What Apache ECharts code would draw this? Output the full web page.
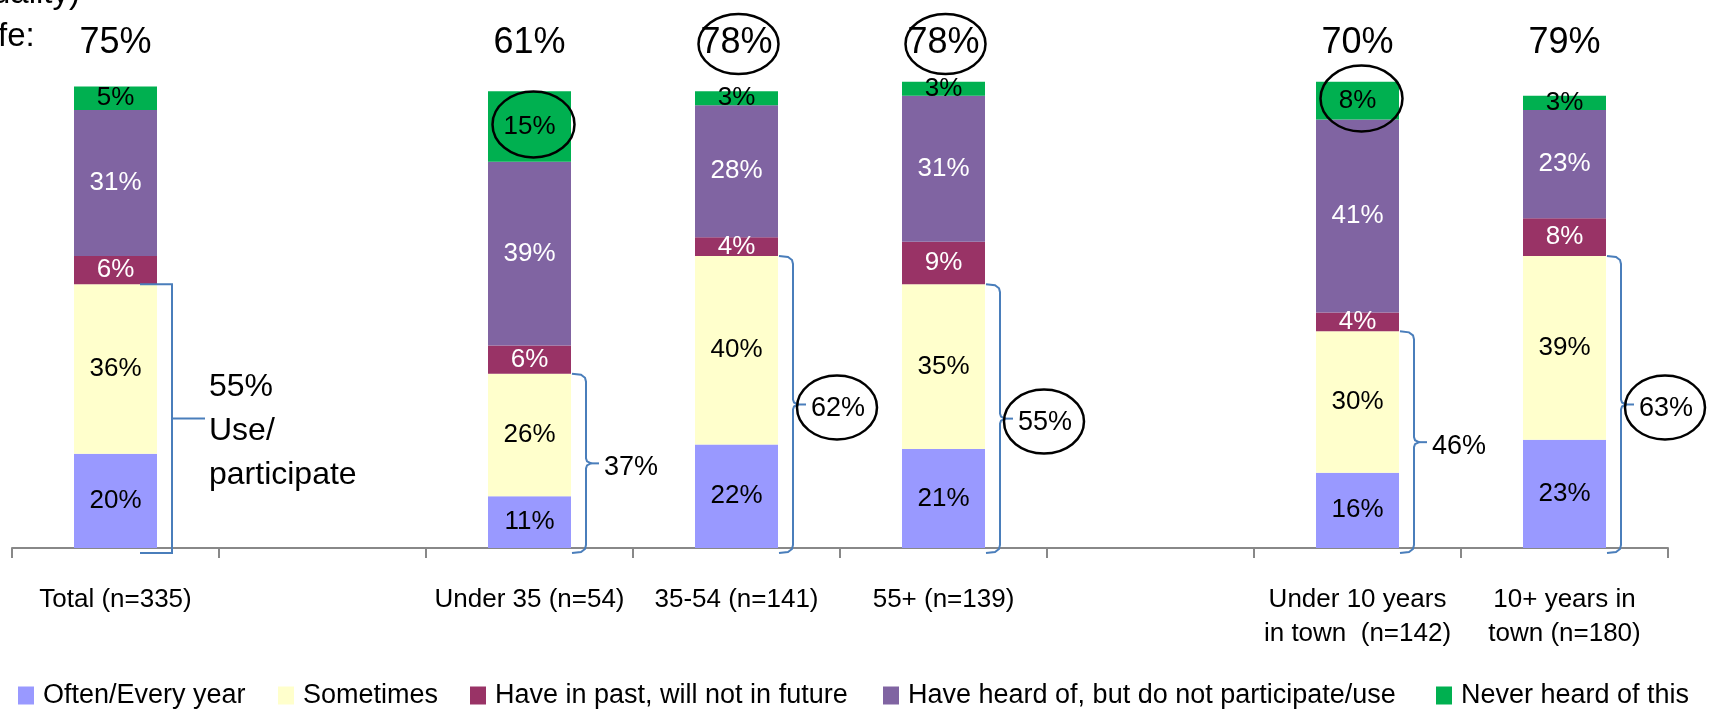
<!DOCTYPE html>
<html>
<head>
<meta charset="utf-8">
<script src="https://cdn.jsdelivr.net/npm/echarts@6/dist/echarts.min.js"></script>
<style>
  html, body { margin: 0; padding: 0; background: #fff; }
  #chart { width: 1725px; height: 709px; }
</style>
</head>
<body>
<div id="chart"></div>
<script>
// categories (empty ones are the spacer slots between groups)
const categories = ['Total (n=335)', '', 'Under 35 (n=54)', '35-54 (n=141)', '55+ (n=139)', '',
  'Under 10 years\nin town  (n=142)', '10+ years in\ntown (n=180)'];
const seriesNames = ['Often/Every year', 'Sometimes', 'Have in past, will not in future',
  'Have heard of, but do not participate/use', 'Never heard of this'];
const often = [20, null, 11, 22, 21, null, 16, 23];
const sometimes = [36, null, 26, 40, 35, null, 30, 39];
const pastNotFuture = [6, null, 6, 4, 9, null, 4, 8];
const heardNotUse = [31, null, 39, 28, 31, null, 41, 23];
const neverHeard = [5, null, 15, 3, 3, null, 8, 3];
// figures written above the bars and next to the brackets
const topLabels = ['75%', '', '61%', '78%', '78%', '', '70%', '79%'];
const useLabels = ['55%', '', '37%', '62%', '55%', '', '46%', '63%'];
// which figures got a hand drawn circle
const topCircled = [3, 4];
const useCircled = [3, 4, 7];
const neverCircled = [2, 6];

const FONT = '"Liberation Sans", Arial, sans-serif';
const BAR_W = 83;
const colors = ['#9999FF', '#FFFFCC', '#993366', '#8064A2', '#00B050'];
const labelColors = ['#000', '#000', '#fff', '#fff', '#000'];
const values = [often, sometimes, pastNotFuture, heardNotUse, neverHeard];

const chart = echarts.init(document.getElementById('chart'));

const barSeries = values.map((vals, i) => ({
  name: seriesNames[i],
  type: 'bar',
  stack: 'total',
  barWidth: BAR_W,
  data: vals,
  itemStyle: { color: colors[i] },
  label: {
    show: true,
    position: 'inside',
    formatter: p => p.value + '%',
    fontSize: 26,
    fontFamily: FONT,
    color: labelColors[i]
  },
  emphasis: { disabled: true },
  z: 2
}));

// annotation layer: top figures, brackets and circles
const annoData = [];
categories.forEach((c, i) => { if (often[i] != null) annoData.push([i, often[i] + sometimes[i]]); });

function ellipse(cx, cy, rx, ry) {
  return { type: 'ellipse', shape: { cx: cx, cy: cy, rx: rx, ry: ry },
    style: { fill: 'none', stroke: '#000', lineWidth: 2.5 }, z2: 10 };
}

function renderAnno(params, api) {
  const c = api.value(0);
  const top = api.value(1);
  const base = api.coord([c, 0]);
  const tp = api.coord([c, top]);
  const axTop = api.coord([c, 100])[1];
  const cx = base[0];
  const x0 = cx + BAR_W / 2;
  const xb = x0 + 15;
  const yTop = tp[1];
  const yBot = base[1] + 5;
  const yMid = (yTop + yBot) / 2;
  const kids = [];
  const line = { stroke: '#4A7EBB', lineWidth: 2, fill: 'none' };

  // figure above the bar
  const ty = axTop - 34;
  kids.push({ type: 'text', x: cx, y: ty,
    style: { text: topLabels[c], fontSize: 36, fontFamily: FONT, fill: '#000', align: 'center', verticalAlign: 'middle' } });
  if (topCircled.indexOf(c) >= 0) kids.push(ellipse(cx + 2, ty + 1, 40, 30));

  // circle around the "never heard" figure
  if (neverCircled.indexOf(c) >= 0) {
    const total = often[c] + sometimes[c] + pastNotFuture[c] + heardNotUse[c];
    const yc = (api.coord([c, total])[1] + api.coord([c, total + neverHeard[c]])[1]) / 2;
    kids.push(ellipse(cx + 4, yc - 2, 41, 33));
  }

  if (c === 0) {
    kids.push({ type: 'polyline', shape: { points: [[x0 - 17, yTop], [xb, yTop], [xb, yBot], [x0 - 17, yBot]] }, style: line });
    kids.push({ type: 'line', shape: { x1: xb, y1: yMid, x2: xb + 33, y2: yMid }, style: line });
    kids.push({ type: 'text', x: xb + 37, y: yMid + 13,
      style: { text: useLabels[c] + '\nUse/\nparticipate', fontSize: 32, lineHeight: 44, fontFamily: FONT,
        fill: '#000', align: 'left', verticalAlign: 'middle' } });
  } else {
    kids.push({ type: 'polyline', shape: { points: [
      [x0 + 1, yTop], [xb - 5, yTop + 1], [xb - 1, yTop + 4], [xb, yTop + 8],
      [xb, yMid - 5], [xb + 1, yMid - 2], [xb + 5, yMid], [xb + 1, yMid + 2], [xb, yMid + 5],
      [xb, yBot - 8], [xb - 1, yBot - 4], [xb - 5, yBot - 1], [x0 + 1, yBot]] }, style: line });
    kids.push({ type: 'line', shape: { x1: xb + 5, y1: yMid, x2: xb + 13, y2: yMid }, style: line });
    const lx = xb + 18;
    kids.push({ type: 'text', x: lx, y: yMid + 4,
      style: { text: useLabels[c], fontSize: 27, fontFamily: FONT, fill: '#000', align: 'left', verticalAlign: 'middle' } });
    if (useCircled.indexOf(c) >= 0) kids.push(ellipse(lx + 26, yMid + 3, 40, 32));
  }
  return { type: 'group', children: kids };
}

const option = {
  animation: false,
  backgroundColor: '#fff',
  grid: { left: 12, right: 57, top: 77, bottom: 161, containLabel: false },
  legend: seriesNames.map((n, i) => ({
    data: [n],
    left: [18, 278, 470, 883, 1436][i],
    top: 682,
    padding: 0,
    itemWidth: 16,
    itemHeight: 18,
    icon: 'rect',
    selectedMode: false,
    textStyle: { fontSize: 27, fontFamily: FONT, color: '#000', padding: [0, 0, 0, 4] }
  })),
  xAxis: {
    type: 'category',
    data: categories,
    boundaryGap: true,
    axisLine: { show: true, lineStyle: { color: '#888', width: 2 } },
    axisTick: { show: true, alignWithLabel: false, interval: 0, length: 10, lineStyle: { color: '#888', width: 2 } },
    axisLabel: { interval: 0, margin: 35, fontSize: 26, lineHeight: 34, fontFamily: FONT, color: '#000' }
  },
  yAxis: { type: 'value', min: 0, max: 100, show: false, splitLine: { show: false } },
  graphic: [
    { type: 'text', x: 80, y: -6, style: { text: '(quality)', fontSize: 33, fontFamily: FONT, fill: '#000', align: 'right', verticalAlign: 'middle' } },
    { type: 'text', x: -2, y: 37, style: { text: 'fe:', fontSize: 33, fontFamily: FONT, fill: '#000', align: 'left', verticalAlign: 'middle' } }
  ],
  series: barSeries.concat([{
    type: 'custom',
    renderItem: renderAnno,
    data: annoData,
    z: 5,
    silent: true
  }])
};

chart.setOption(option);
window.addEventListener('resize', function () {
  chart.resize();
});
</script>
</body>
</html>
